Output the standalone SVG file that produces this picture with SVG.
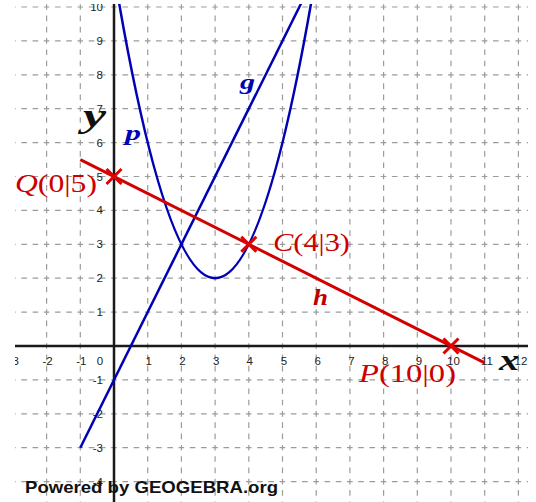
<svg xmlns="http://www.w3.org/2000/svg" width="536" height="502" viewBox="0 0 536 502">
<defs>
<clipPath id="view"><rect x="15" y="4" width="513" height="498"/></clipPath>
</defs>
<style>
.gridh{stroke:#9c9c9c;stroke-width:1.2;stroke-dasharray:5.6 5.63;stroke-dashoffset:2.8;fill:none}
.gridv{stroke:#9c9c9c;stroke-width:1.2;stroke-dasharray:5.65 5.65;stroke-dashoffset:2.82;fill:none}
.axis{stroke:#1a1a1a;stroke-width:2.5;fill:none}
.tick{font-family:"Liberation Sans",Arial,sans-serif;font-size:11.5px;fill:#222}
.tx{text-anchor:middle}
.ty{text-anchor:end}
.blue{stroke:#0000b4;stroke-width:2.5;fill:none}
.red{stroke:#d40000;stroke-width:3;fill:none}
.pt{stroke:#e00000;stroke-width:3;fill:none}
.ptlabel{font-family:"Liberation Serif","Times New Roman",serif;font-size:26px;fill:#cc0000}
.name{font-family:"Liberation Serif","Times New Roman",serif;font-style:italic;font-weight:bold}
.credit{font-family:"Liberation Sans",Arial,sans-serif;font-weight:bold;font-size:16.5px;fill:#111}
</style>
<rect width="536" height="502" fill="#ffffff"/>
<g clip-path="url(#view)">
<g id="grid">
<path class="gridh" d="M12.9 7H540M12.9 40.9H540M12.9 74.8H540M12.9 108.7H540M12.9 142.6H540M12.9 176.5H540M12.9 210.4H540M12.9 244.3H540M12.9 278.2H540M12.9 312.1H540M12.9 379.9H540M12.9 413.8H540M12.9 447.7H540M12.9 481.6H540"/>
<path class="gridv" d="M12.9 -26.9V510M46.6 -26.9V510M80.3 -26.9V510M147.7 -26.9V510M181.4 -26.9V510M215.1 -26.9V510M248.8 -26.9V510M282.5 -26.9V510M316.2 -26.9V510M349.9 -26.9V510M383.6 -26.9V510M417.3 -26.9V510M451 -26.9V510M484.7 -26.9V510M518.4 -26.9V510"/>
</g>
<g id="axes">
<path class="axis" d="M15 346H528M114 4V502"/>
</g>
<g id="tick-labels" class="tick">
<text class="tx" x="13.9" y="365">-3</text>
<text class="tx" x="47.6" y="365">-2</text>
<text class="tx" x="81.3" y="365">-1</text>
<text class="tx" x="100" y="365">0</text>
<text class="tx" x="148.7" y="365">1</text>
<text class="tx" x="182.4" y="365">2</text>
<text class="tx" x="216.1" y="365">3</text>
<text class="tx" x="249.8" y="365">4</text>
<text class="tx" x="284" y="365">5</text>
<text class="tx" x="317.7" y="365">6</text>
<text class="tx" x="351.4" y="365">7</text>
<text class="tx" x="385.1" y="365">8</text>
<text class="tx" x="419" y="365">9</text>
<text class="tx" x="453.5" y="365">10</text>
<text class="tx" x="487" y="365">11</text>
<text class="tx" x="521" y="365">12</text>
<text class="ty" x="103" y="11">10</text>
<text class="ty" x="103" y="44.9">9</text>
<text class="ty" x="103" y="78.8">8</text>
<text class="ty" x="103" y="112.7">7</text>
<text class="ty" x="103" y="146.6">6</text>
<text class="ty" x="103" y="180.5">5</text>
<text class="ty" x="103" y="214.4">4</text>
<text class="ty" x="103" y="248.3">3</text>
<text class="ty" x="103" y="282.2">2</text>
<text class="ty" x="103" y="316.1">1</text>
<text class="ty" x="103" y="383.9">-1</text>
<text class="ty" x="103" y="417.8">-2</text>
<text class="ty" x="103" y="451.7">-3</text>
<text class="ty" x="103" y="485.6">-4</text>
</g>
<g id="curve-g">
<path class="blue" d="M80.3 447.7L302.7 0.2"/>
</g>
<g id="curve-p">
<path class="blue" d="M117.37 -6.9Q215.1 563.3 312.83 -6.9"/>
</g>
<g id="line-h">
<path class="red" d="M80.3 159.55L484.7 362.95"/>
</g>
<g id="point-Q">
<path class="pt" d="M106.5 169L121.5 184M121.5 169L106.5 184"/>
<text class="ptlabel" x="15" y="192" textLength="82" lengthAdjust="spacingAndGlyphs"><tspan font-style="italic">Q</tspan>(0|5)</text>
</g>
<g id="point-C">
<path class="pt" d="M241.3 236.8L256.3 251.8M256.3 236.8L241.3 251.8"/>
<text class="ptlabel" x="273" y="251" textLength="77" lengthAdjust="spacingAndGlyphs"><tspan font-style="italic">C</tspan>(4|3)</text>
</g>
<g id="point-P">
<path class="pt" d="M443.5 338.5L458.5 353.5M458.5 338.5L443.5 353.5"/>
<text class="ptlabel" x="359" y="382" textLength="97" lengthAdjust="spacingAndGlyphs"><tspan font-style="italic">P</tspan>(10|0)</text>
</g>
<g id="names">
<text class="name" x="125" y="140" font-size="22" fill="#0000b4" textLength="16" lengthAdjust="spacingAndGlyphs">p</text>
<text class="name" x="240" y="89" font-size="22" fill="#0000b4" textLength="15" lengthAdjust="spacingAndGlyphs">g</text>
<text class="name" x="313" y="305" font-size="24" fill="#c00000" textLength="15" lengthAdjust="spacingAndGlyphs">h</text>
<text class="name" x="83" y="127" font-size="33" fill="#111" textLength="23" lengthAdjust="spacingAndGlyphs">y</text>
<text class="name" x="499" y="370" font-size="30" fill="#111" textLength="20" lengthAdjust="spacingAndGlyphs">x</text>
</g>
</g>
<text class="credit" x="25" y="493" textLength="253" lengthAdjust="spacingAndGlyphs">Powered by GEOGEBRA.org</text>
</svg>
